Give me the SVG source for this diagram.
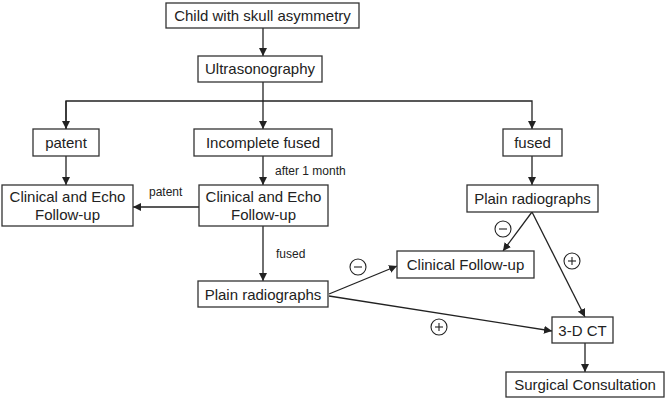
<svg xmlns="http://www.w3.org/2000/svg" width="666" height="400" viewBox="0 0 666 400">
<style>
.box{fill:#fff;stroke:#333;stroke-width:1.3}
.t{font-family:"Liberation Sans",Arial,sans-serif;font-size:15px;fill:#222;text-anchor:middle}
.s{font-family:"Liberation Sans",Arial,sans-serif;font-size:12px;fill:#222}
.c{fill:none;stroke:#222;stroke-width:1.3}
.sign{fill:none;stroke:#222;stroke-width:1.1}
</style>
<defs>
<marker id="ah" viewBox="0 0 10 10" refX="10" refY="5" markerWidth="8" markerHeight="8" markerUnits="userSpaceOnUse" orient="auto">
<path d="M0,0 L10,5 L0,10 z" fill="#222"/>
</marker>
</defs>
<rect width="666" height="400" fill="#fff"/>
<g id="connectors">
<line class="c" x1="263" y1="28" x2="263" y2="56" marker-end="url(#ah)"/>
<polyline class="c" points="263,82 263,101"/>
<polyline class="c" points="66,129 66,101 532,101 532,129" marker-end="url(#ah)"/>
<line class="c" x1="66" y1="101" x2="66" y2="129" marker-end="url(#ah)"/>
<line class="c" x1="263" y1="101" x2="263" y2="129" marker-end="url(#ah)"/>
<line class="c" x1="66" y1="156" x2="66" y2="185" marker-end="url(#ah)"/>
<line class="c" x1="263" y1="156" x2="263" y2="185" marker-end="url(#ah)"/>
<line class="c" x1="199" y1="207" x2="133" y2="207" marker-end="url(#ah)"/>
<line class="c" x1="263" y1="226" x2="263" y2="281" marker-end="url(#ah)"/>
<line class="c" x1="532" y1="156" x2="532" y2="185" marker-end="url(#ah)"/>
<line class="c" x1="532" y1="212" x2="503" y2="251" marker-end="url(#ah)"/>
<line class="c" x1="532" y1="212" x2="585" y2="317" marker-end="url(#ah)"/>
<line class="c" x1="329" y1="294" x2="397" y2="266" marker-end="url(#ah)"/>
<line class="c" x1="329" y1="296" x2="552" y2="331" marker-end="url(#ah)"/>
<line class="c" x1="585" y1="343" x2="585" y2="372" marker-end="url(#ah)"/>
<text class="s" x="275" y="175">after 1 month</text>
<text class="s" x="149" y="196">patent</text>
<text class="s" x="276" y="258">fused</text>
<g id="minus1"><circle class="sign" cx="503" cy="229" r="8"/><line class="sign" x1="499" y1="229" x2="507" y2="229"/></g>
<g id="plus1"><circle class="sign" cx="572" cy="261" r="8"/><line class="sign" x1="568" y1="261" x2="576" y2="261"/><line class="sign" x1="572" y1="257" x2="572" y2="265"/></g>
<g id="minus2"><circle class="sign" cx="358" cy="267" r="8"/><line class="sign" x1="354" y1="267" x2="362" y2="267"/></g>
<g id="plus2"><circle class="sign" cx="439" cy="327" r="8"/><line class="sign" x1="435" y1="327" x2="443" y2="327"/><line class="sign" x1="439" y1="323" x2="439" y2="331"/></g>
</g>
<g id="child"><rect class="box" x="166" y="3" width="193" height="25"/><text class="t" x="262.5" y="21">Child with skull asymmetry</text></g>
<g id="ultra"><rect class="box" x="198" y="56" width="124" height="26"/><text class="t" x="260" y="74">Ultrasonography</text></g>
<g id="patent"><rect class="box" x="33" y="129" width="66" height="27"/><text class="t" x="66" y="148">patent</text></g>
<g id="incomplete"><rect class="box" x="194" y="129" width="138" height="27"/><text class="t" x="263" y="148">Incomplete fused</text></g>
<g id="fused"><rect class="box" x="503" y="129" width="59" height="27"/><text class="t" x="532.5" y="148">fused</text></g>
<g id="clinicalLeft"><rect class="box" x="2" y="185" width="131" height="41"/><text class="t" x="67.5" y="202">Clinical and Echo</text><text class="t" x="67.5" y="220">Follow-up</text></g>
<g id="clinicalMid"><rect class="box" x="199" y="185" width="129" height="41"/><text class="t" x="263.5" y="202">Clinical and Echo</text><text class="t" x="263.5" y="220">Follow-up</text></g>
<g id="plainRight"><rect class="box" x="467" y="185" width="131" height="27"/><text class="t" x="532.5" y="204">Plain radiographs</text></g>
<g id="plainLeft"><rect class="box" x="198" y="281" width="130" height="26"/><text class="t" x="263" y="299.5">Plain radiographs</text></g>
<g id="clinicalFU"><rect class="box" x="397" y="251" width="137" height="27"/><text class="t" x="465.5" y="270">Clinical Follow-up</text></g>
<g id="ct"><rect class="box" x="552" y="317" width="61" height="26"/><text class="t" x="582.5" y="335.5">3-D CT</text></g>
<g id="surgical"><rect class="box" x="506" y="372" width="158" height="25"/><text class="t" x="585" y="390">Surgical Consultation</text></g>
</svg>
